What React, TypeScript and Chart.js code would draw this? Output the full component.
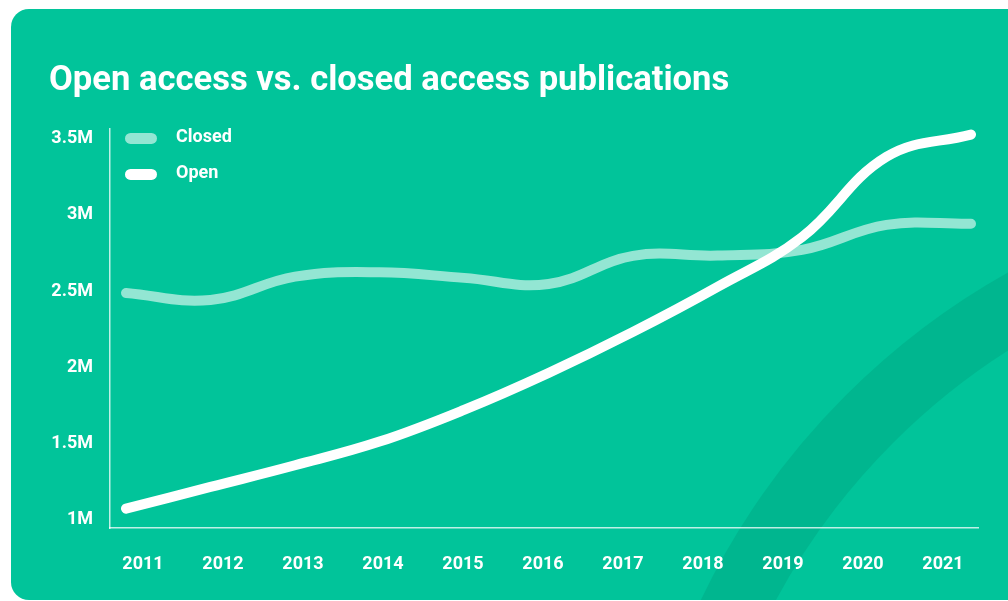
import React, { useEffect, useRef } from "react";
import { Chart, registerables } from "chart.js";

Chart.register(...registerables);

const TITLE = "Open access vs. closed access publications";
const YEARS = [2011, 2012, 2013, 2014, 2015, 2016, 2017, 2018, 2019, 2020, 2021];
const SERIES_NAMES = ["Closed", "Open"];
const CLOSED = [2474000, 2428000, 2581000, 2610000, 2573000, 2533000, 2717000, 2719000, 2756000, 2920000, 2927000];
const OPEN = [1061000, 1203000, 1345000, 1500000, 1708000, 1950000, 2219000, 2514000, 2840000, 3366000, 3512000];
const Y_TICKS = [1000000, 1500000, 2000000, 2500000, 3000000, 3500000];

const CARD = "#01C49A";
const BAND = "#00B68F";
const CLOSED_COLOR = "#93E6D3";
const OPEN_COLOR = "#FFFFFF";
const AXIS_COLOR = "rgba(255,255,255,0.75)";
const FONT = "Roboto";

const pillLegend = {
  id: "pillLegend",
  afterDatasetsDraw(chart: any) {
    const { ctx, chartArea } = chart;
    chart.data.datasets.forEach((ds: any, i: number) => {
      const cy = chartArea.top + 9.5 + i * 36;
      const x0 = chartArea.left + 15;
      ctx.save();
      ctx.fillStyle = ds.borderColor;
      ctx.beginPath();
      ctx.roundRect(x0, cy - 5.5, 32, 11, 5.5);
      ctx.fill();
      ctx.font = `bold 18px ${FONT}`;
      ctx.fillStyle = "#FFFFFF";
      ctx.textBaseline = "middle";
      ctx.textAlign = "left";
      ctx.fillText(ds.label, x0 + 51, cy - 0.5);
      ctx.restore();
    });
  },
};

export default function App() {
  const ref = useRef<HTMLCanvasElement | null>(null);

  useEffect(() => {
    document.body.style.overflow = "hidden";
    const canvas = ref.current;
    if (!canvas) return;
    const chart = new Chart(canvas, {
      type: "line",
      data: {
        datasets: [
          {
            label: SERIES_NAMES[0],
            data: YEARS.map((y, i) => ({ x: y, y: CLOSED[i] })),
            borderColor: CLOSED_COLOR,
            backgroundColor: CLOSED_COLOR,
            borderWidth: 10,
            borderCapStyle: "round",
            borderJoinStyle: "round",
            pointRadius: 0,
            tension: 0.4,
            xAxisID: "xData",
            yAxisID: "y",
            order: 1,
          },
          {
            label: SERIES_NAMES[1],
            data: YEARS.map((y, i) => ({ x: y, y: OPEN[i] })),
            borderColor: OPEN_COLOR,
            backgroundColor: OPEN_COLOR,
            borderWidth: 10,
            borderCapStyle: "round",
            borderJoinStyle: "round",
            pointRadius: 0,
            tension: 0.4,
            xAxisID: "xData",
            yAxisID: "y",
            order: 0,
          },
        ],
      },
      options: {
        animation: false,
        responsive: true,
        maintainAspectRatio: false,
        layout: { padding: { left: 38, right: 30, top: 0, bottom: 28.8 } },
        plugins: {
          legend: { display: false },
          tooltip: { enabled: false },
          title: {
            display: true,
            text: TITLE,
            align: "start",
            color: "#FFFFFF",
            font: { family: FONT, size: 34.6, weight: "bold" },
            padding: { top: 51.5, bottom: 26.9 },
          },
        },
        scales: {
          x: {
            type: "linear",
            position: "bottom",
            min: 2010.5875,
            max: 2021.4375,
            afterBuildTicks: (s: any) => {
              s.ticks = YEARS.map((v) => ({ value: v }));
            },
            afterFit: (s: any) => {
              s.height = 43.2;
            },
            ticks: {
              color: "#FFFFFF",
              font: { family: FONT, size: 18, weight: "bold" },
              padding: 26,
              maxRotation: 0,
              autoSkip: false,
              callback: (v: any) => String(v),
            },
            grid: { display: false, drawTicks: false },
            border: { display: true, color: AXIS_COLOR, width: 1.5 },
          },
          xData: {
            type: "linear",
            display: false,
            min: 2010.8107,
            max: 2021.0828,
          },
          y: {
            type: "linear",
            position: "left",
            min: 934000,
            max: 3549000,
            afterBuildTicks: (s: any) => {
              s.ticks = Y_TICKS.map((v) => ({ value: v }));
            },
            afterFit: (s: any) => {
              s.width = 61;
            },
            ticks: {
              color: "#FFFFFF",
              font: { family: FONT, size: 18, weight: "bold" },
              padding: 17,
              labelOffset: 2,
              autoSkip: false,
              callback: (v: any) => `${Number(v) / 1000000}M`,
            },
            grid: { display: false, drawTicks: false },
            border: { display: true, color: AXIS_COLOR, width: 1.5 },
          },
        },
      },
      plugins: [pillLegend],
    } as any);
    return () => chart.destroy();
  }, []);

  return (
    <div
      style={{
        position: "absolute",
        left: 11,
        top: 9,
        width: 997,
        height: 591,
        borderRadius: "18px 0 0 18px",
        overflow: "hidden",
        background: CARD,
      }}
    >
      <div
        style={{
          position: "absolute",
          left: 617,
          top: 169,
          width: 1486,
          height: 1486,
          borderRadius: "50%",
          border: `67px solid ${BAND}`,
          boxSizing: "border-box",
        }}
      />
      <div style={{ position: "absolute", left: 0, top: 0, width: 997, height: 591 }}>
        <canvas ref={ref} />
      </div>
    </div>
  );
}
